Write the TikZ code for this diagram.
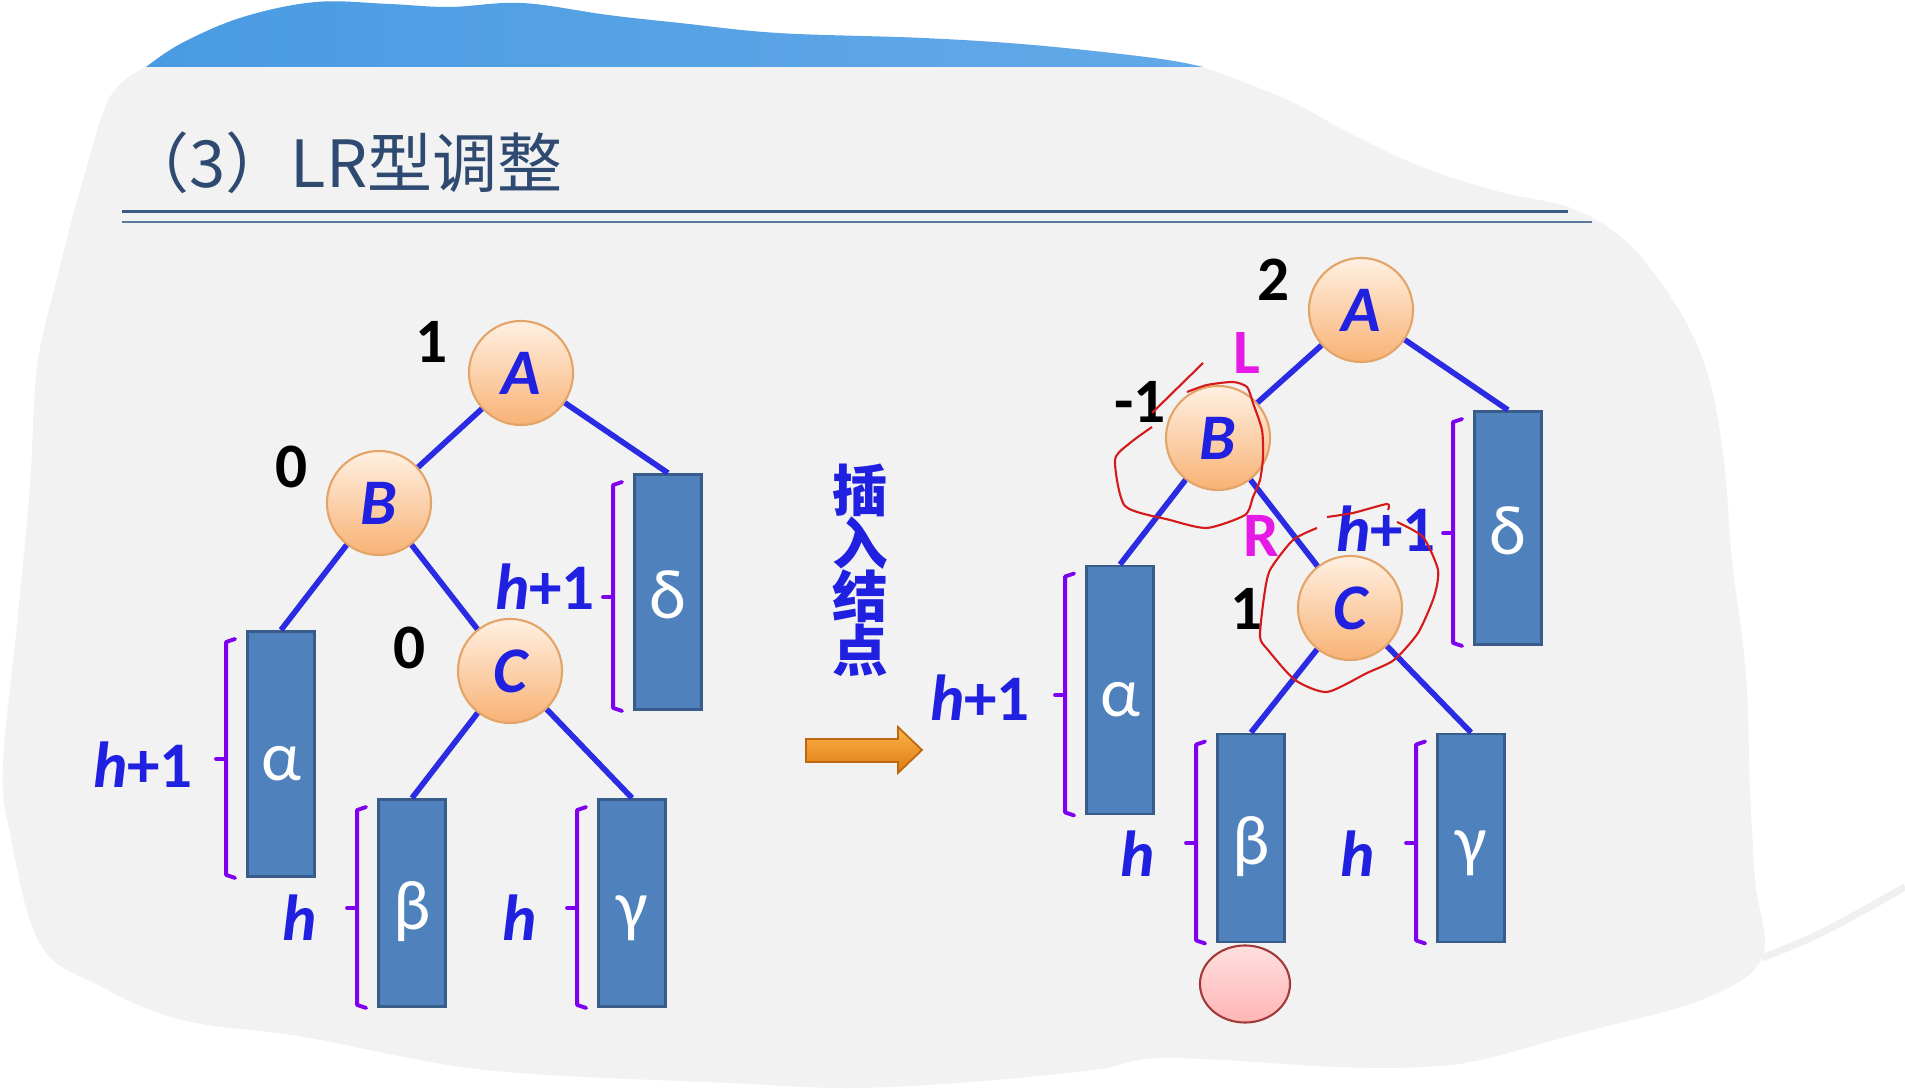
\documentclass[tikz,border=0pt]{standalone}
\usepackage{fontspec}
\setmainfont{Carlito}
\newfontfamily\cjk{Noto Sans CJK SC}
\usepackage{tikz}
\usetikzlibrary{calc,shapes.geometric}
\definecolor{bgray}{HTML}{F2F2F2}
\definecolor{capblue}{HTML}{4A9BE2}
\definecolor{capblue2}{HTML}{63A9E8}
\definecolor{titleblue}{HTML}{2F4A70}
\definecolor{rulea}{HTML}{3C5C86}
\definecolor{ruleb}{HTML}{5A7AA0}
\definecolor{linkblue}{HTML}{2B2BE3}
\definecolor{inkblue}{HTML}{2020E0}
\definecolor{boxfill}{HTML}{4F81BD}
\definecolor{boxline}{HTML}{385D8A}
\definecolor{purp}{HTML}{7F00EE}
\definecolor{peachtop}{HTML}{FFF0E2}
\definecolor{peachbot}{HTML}{F8B275}
\definecolor{peachline}{HTML}{E3A468}
\definecolor{mag}{HTML}{E61AE6}
\definecolor{redink}{HTML}{D41A1A}
\definecolor{pinkf}{HTML}{FFC9C9}
\definecolor{pinkline}{HTML}{A33A3A}
\definecolor{orangetop}{HTML}{FBB54A}
\definecolor{orangebot}{HTML}{DE7A12}
\newcommand{\kuo}[1]{\draw[brk] ($(#1.north west)+(-11,9)$) -- ($(#1.north west)+(-20,12)$) -- ($(#1.south west)+(-20,-3)$) -- ($(#1.south west)+(-11,0)$);
  \draw[brk] ($(#1.west)+(-20,5)$) -- ++(-10,0);}
\tikzset{tn/.style={circle,draw=peachline,line width=0.6pt,top color=peachtop,bottom color=peachbot,minimum size=1.04cm,inner sep=0pt,text=inkblue,font=\fontsize{18.5}{20}\selectfont\bfseries\itshape},
  sub/.style={rectangle,draw=boxline,line width=0.8pt,fill=boxfill,minimum width=0.67cm,inner sep=0pt,text=white,text height=0.6cm,text depth=0.08cm,font=\fontsize{20}{22}\selectfont},
  edge/.style={linkblue,line width=1.6pt},
  brk/.style={purp,line width=1.1pt,line join=round,line cap=round},
  bal/.style={inner sep=0pt,font=\fontsize{18}{20}\selectfont\bfseries},
  hl/.style={inner sep=0pt,text=inkblue,font=\fontsize{18.5}{20}\selectfont\bfseries},
  scrawl/.style={redink,line width=0.6pt,line join=round}}

\begin{document}
\begin{tikzpicture}[x=0.01cm,y=-0.01cm]
\useasboundingbox (0,0) rectangle (1905,1089);
\fill[white] (0,0) rectangle (1905,1089);
\fill[bgray] (146,67) -- plot[smooth,tension=0.6] coordinates {(1203,67) (1288,100) (1349,133) (1422,167) (1500,192) (1568,207) (1616,233) (1653,272) (1690,330) (1712,390) (1725,470) (1732,560) (1746,675) (1750,790) (1755,880) (1762,958) (1701,1000) (1580,1033) (1480,1060) (1422,1067) (1337,1067) (1166,1058) (1094,1070) (970,1082) (850,1088) (729,1083) (486,1070) (304,1037) (182,1020) (100,986) (40,944) (10,833) (3,764) (17,625) (30,486) (37,368) (57,278) (83,180) (110,97) (146,67)} -- cycle;
\draw[black!6,line width=2pt] (1762,958) .. controls (1820,935) .. (1905,887);
\shade[left color=capblue,right color=capblue2] plot[smooth,tension=0.6] coordinates {(146,67) (182,43) (243,17) (316,2) (389,4) (450,7) (522,3) (608,15) (680,23) (778,33) (923,38) (1033,45) (1154,58) (1203,67)} -- cycle;
\node[anchor=base west,inner sep=0pt,text=titleblue,font=\cjk\fontsize{18.5}{20}\selectfont] (title) at (124,188) {（3）LR型调整};
\draw[rulea,line width=3pt*0.2845] (122,212) -- (1568,212); \draw[ruleb,line width=2pt*0.2845] (122,222) -- (1592,222);

\node[tn] (a1) at (521,373) {A}; \node[tn] (b1) at (379,503) {B}; \node[tn] (c1) at (510,671) {C};
\node[sub,minimum height=2.45cm] (al1) at (281,754) {α}; \node[sub,minimum height=2.07cm] (be1) at (412,903) {β};
\node[sub,minimum height=2.07cm] (ga1) at (632,903) {γ}; \node[sub,minimum height=2.35cm] (de1) at (668,592) {δ};
\draw[edge] (a1) -- (b1); \draw[edge] (a1) -- (de1.north); \draw[edge] (b1) -- (al1.north); \draw[edge] (b1) -- (c1);
\draw[edge] (c1) -- (be1.north); \draw[edge] (c1) -- (ga1.north);
\node[bal] (n1) at (432,342) {1}; \node[bal] (n2) at (292,467) {0}; \node[bal] (n3) at (410,648) {0};
\kuo{al1} \kuo{be1} \kuo{ga1} \kuo{de1}
\node[hl] (h1) at (143,765) {\textit{h}+1}; \node[hl] (h2) at (300,918) {\textit{h}};
\node[hl] (h3) at (520,918) {\textit{h}}; \node[hl] (h4) at (545,587) {\textit{h}+1};

\node[align=center,inner sep=0pt,text=inkblue,font=\cjk\bfseries\fontsize{15.8}{15.2}\selectfont] (ins) at (860,570) {插\\入\\结\\点};
\shadedraw[top color=orangetop,bottom color=orangebot,draw=orangebot!85!black,line width=0.5pt] (806,739) -- (898,739) -- (898,727) -- (922,750) -- (898,773) -- (898,762) -- (806,762) -- cycle;

\node[tn] (a2) at (1361,310) {A}; \node[tn] (b2) at (1218,438) {B}; \node[tn] (c2) at (1350,608) {C};
\node[sub,minimum height=2.48cm] (al2) at (1120,690) {α}; \node[sub,minimum height=2.08cm] (be2) at (1251,838) {β};
\node[sub,minimum height=2.08cm] (ga2) at (1471,838) {γ}; \node[sub,minimum height=2.33cm] (de2) at (1508,528) {δ};
\draw[edge] (a2) -- (b2); \draw[edge] (a2) -- (de2.north); \draw[edge] (b2) -- (al2.north); \draw[edge] (b2) -- (c2);
\draw[edge] (c2) -- (be2.north); \draw[edge] (c2) -- (ga2.north);
\node[ellipse,draw=pinkline,line width=0.6pt,top color=pinkf!60,bottom color=pinkf!90!red,minimum width=0.9cm,minimum height=0.77cm,inner sep=0pt] (xin) at (1245,984) {};
\node[bal] (m1) at (1274,280) {2}; \node[bal] (m2) at (1140,402) {-1}; \node[bal] (m3) at (1247,609) {1};
\node[bal,text=mag] (lt) at (1247,353) {L}; \node[bal,text=mag] (rt) at (1261,536) {R};
\kuo{al2} \kuo{be2} \kuo{ga2} \kuo{de2}
\node[hl] (g1) at (980,698) {\textit{h}+1}; \node[hl] (g2) at (1138,854) {\textit{h}};
\node[hl] (g3) at (1358,854) {\textit{h}}; \node[hl] (g4) at (1386,529) {\textit{h}+1};

\draw[scrawl] (1152,413) -- (1203,363);
\draw[scrawl] plot[smooth,tension=0.4] coordinates {(1187,392) (1207,385) (1233,382) (1247,387) (1253,403) (1262,430) (1263,457) (1260,480) (1253,497) (1245,515) (1207,528) (1170,520) (1125,506) (1115,460) (1130,443) (1152,427)};
\draw[scrawl] plot[smooth,tension=0.4] coordinates {(1327,517) (1353,513) (1387,504) (1388,510)};
\draw[scrawl] plot[smooth,tension=0.4] coordinates {(1397,522) (1423,537) (1438,570) (1434,597) (1418,633) (1394,660) (1367,673) (1327,692) (1295,680) (1268,650) (1260,637) (1264,597) (1270,570) (1293,540) (1317,528)};
\end{tikzpicture}
\end{document}
